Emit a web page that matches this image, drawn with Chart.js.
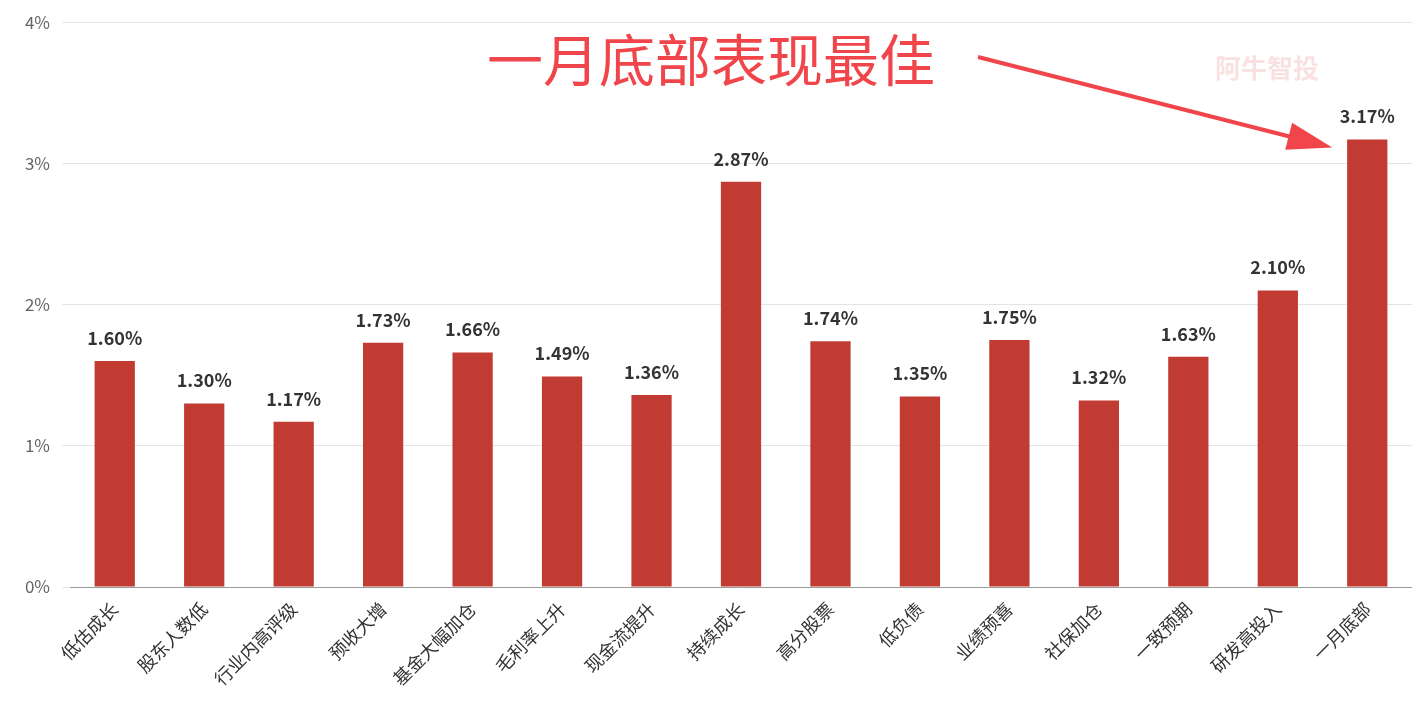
<!DOCTYPE html>
<html><head><meta charset="utf-8">
<script src="https://cdn.jsdelivr.net/npm/chart.js@4"></script>
<style>html,body{margin:0;padding:0;background:#fff}#w{width:1412px;height:707px}</style>
</head><body><div id="w"><canvas id="c"></canvas></div>
<script>
const categories=["低估成长","股东人数低","行业内高评级","预收大增","基金大幅加仓","毛利率上升","现金流提升","持续成长","高分股票","低负债","业绩预喜","社保加仓","一致预期","研发高投入","一月底部"];
const values=[1.60,1.30,1.17,1.73,1.66,1.49,1.36,2.87,1.74,1.35,1.75,1.32,1.63,2.10,3.17];
const yTicks=["0%","1%","2%","3%","4%"];
const title="一月底部表现最佳";
const FONT="'Noto Sans CJK SC','Noto Sans',sans-serif";
const plug={id:'ann',afterDatasetsDraw(ch){
 const c=ch.ctx,a=ch.chartArea;c.save();
 c.font="bold 18px "+FONT;c.fillStyle="#333";c.textAlign="center";c.textBaseline="bottom";
 ch.getDatasetMeta(0).data.forEach((b,i)=>c.fillText(values[i].toFixed(2)+"%",b.x,b.y-14));
 c.font="bold 26px "+FONT;c.fillStyle="rgba(240,170,170,0.35)";c.textAlign="left";c.textBaseline="middle";
 c.fillText("阿牛智投",1215,68);
 c.font="56px "+FONT;c.fillStyle="#f0454a";c.textAlign="left";
 c.fillText(title,487,60);
 const last=ch.getDatasetMeta(0).data[14];
 const x0=978,y0=57,x1=last.x-35,y1=last.y+8;
 const ang=Math.atan2(y1-y0,x1-x0);
 c.strokeStyle="#f0454a";c.lineWidth=4;c.beginPath();c.moveTo(x0,y0);c.lineTo(x1-30*Math.cos(ang),y1-30*Math.sin(ang));c.stroke();
 c.beginPath();c.moveTo(x1,y1);
 c.lineTo(x1-45*Math.cos(ang)+14*Math.sin(ang),y1-45*Math.sin(ang)-14*Math.cos(ang));
 c.lineTo(x1-45*Math.cos(ang)-14*Math.sin(ang),y1-45*Math.sin(ang)+14*Math.cos(ang));
 c.closePath();c.fill();c.restore();}};
new Chart(document.getElementById('c'),{type:'bar',
 data:{labels:categories,datasets:[{data:values,backgroundColor:'#c23b33',barPercentage:0.9,categoryPercentage:0.5}]},
 options:{responsive:true,maintainAspectRatio:false,animation:false,
  layout:{padding:{top:10,right:0,left:0,bottom:0}},
  plugins:{legend:{display:false},tooltip:{enabled:false}},
  scales:{
   x:{grid:{display:false},border:{color:'#999'},
      ticks:{color:'#333',font:{size:18,family:FONT},maxRotation:45,minRotation:45,autoSkip:false},
      afterFit:s=>{s.height=120;}},
   y:{min:0,max:4,grid:{color:'#e4e4e4'},border:{display:false},
      ticks:{stepSize:1,color:'#666',font:{size:17,family:FONT},padding:12,callback:(v)=>yTicks[v]},
      afterFit:s=>{s.width=70;}}}},
 plugins:[plug]});
</script></body></html>
